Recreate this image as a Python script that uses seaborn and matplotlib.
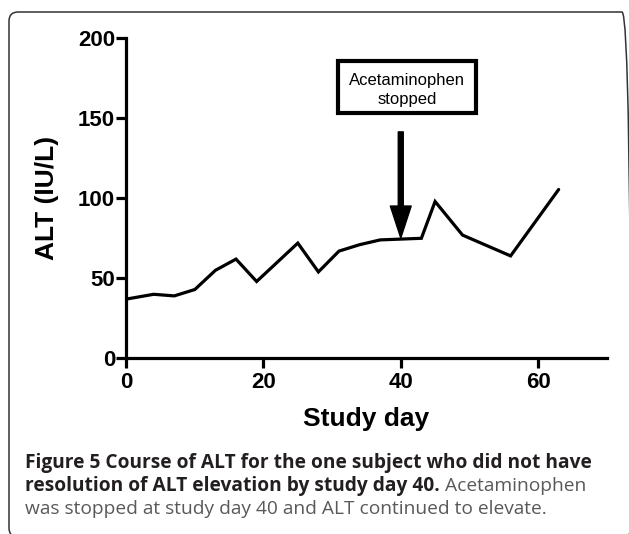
import matplotlib
matplotlib.use("Agg")
import matplotlib.pyplot as plt
import matplotlib.patches as mpatches
from matplotlib.transforms import IdentityTransform
import seaborn as sns
import pandas as pd

# ---- data ----
study_day = [0, 4, 7, 10, 13, 16, 19, 25, 28, 31, 34, 37, 40, 43, 45, 49, 56, 63]
alt_value = [37, 40, 39, 43, 55, 62, 48, 72, 54, 67, 71, 74, 74.5, 75, 98, 77, 64, 105.5]
x_ticks = [0, 20, 40, 60]
y_ticks = [0, 50, 100, 150, 200]
stop_day = 40
annotation_text = "Acetaminophen\nstopped"
x_label = "Study day"
y_label = "ALT (IU/L)"
caption_bold_1 = "Figure 5 Course of ALT for the one subject who did not have"
caption_bold_2 = "resolution of ALT elevation by study day 40."
caption_reg_2 = "Acetaminophen"
caption_reg_3 = "was stopped at study day 40 and ALT continued to elevate."

df = pd.DataFrame({"day": study_day, "alt": alt_value})

sns.set_style("ticks")
plt.rcParams["font.family"] = ["Liberation Sans", "DejaVu Sans"]
plt.rcParams.update({"text.color": "black", "axes.labelcolor": "black",
                     "xtick.color": "black", "ytick.color": "black",
                     "axes.edgecolor": "black"})

W, H = 629, 534
fig = plt.figure(figsize=(W / 100, H / 100), dpi=100)
ax = fig.add_axes([126.2 / W, (H - 358.3) / H, (606.7 - 126.2) / W, 320 / H])

sns.lineplot(data=df, x="day", y="alt", color="black", linewidth=2.3, ax=ax)
ax.lines[0].set_solid_joinstyle("miter")

ax.set_xlim(0, 70)
ax.set_ylim(0, 200)
ax.set_xticks(x_ticks)
ax.set_yticks(y_ticks)
for s in ["top", "right"]:
    ax.spines[s].set_visible(False)
for s in ["left", "bottom"]:
    ax.spines[s].set_linewidth(2.3)
    ax.spines[s].set_capstyle("projecting")
    ax.spines[s].set_color("black")
ax.tick_params(axis="both", length=7, width=2.3, labelsize=16, color="black",
               labelcolor="black")
ax.tick_params(axis="y", pad=1)
ax.tick_params(axis="x", pad=3)
for lab in ax.get_xticklabels() + ax.get_yticklabels():
    lab.set_fontweight("bold")
ax.set_xlabel(x_label, fontsize=19, fontweight="bold", labelpad=10, color="black")
ax.set_ylabel(y_label, fontsize=19, fontweight="bold", labelpad=14, color="black")

# arrow
ax.annotate("", xy=(stop_day, 75.2), xytext=(stop_day, 141.5),
            arrowprops=dict(width=3.6, headwidth=15, headlength=23,
                            facecolor="black", edgecolor="black", shrink=0),
            annotation_clip=False)

# annotation box
ax.add_patch(mpatches.Rectangle((30.9, 153.3), 20.0, 32.5, fill=False,
                                edgecolor="black", linewidth=3, clip_on=False,
                                joinstyle="miter"))
ax.text(40.9, 167.6, annotation_text, ha="center", va="center", fontsize=12,
        linespacing=1.3, multialignment="center", color="black")

# outer rounded frame
frame = mpatches.FancyBboxPatch((9, -3), 622, 525,
                                boxstyle="round,pad=0,rounding_size=9",
                                transform=IdentityTransform(), fill=False,
                                edgecolor="#333333", linewidth=1.1)
fig.add_artist(frame)

# caption
cap_font = ["Open Sans", "DejaVu Sans"]
cap_size = 13.8
x0 = 25 / W
ys = [(H - 468) / H, (H - 491) / H, (H - 514) / H]
fig.text(x0, ys[0], caption_bold_1, fontsize=cap_size, fontweight="bold",
         family=cap_font, color="#231f20", va="baseline")
t2 = fig.text(x0, ys[1], caption_bold_2, fontsize=cap_size, fontweight="bold",
              family=cap_font, color="#231f20", va="baseline")
fig.text(x0, ys[2], caption_reg_3, fontsize=cap_size, family=cap_font,
         color="#58595b", va="baseline")
fig.canvas.draw()
bb = t2.get_window_extent()
fig.text((bb.x1 + 5) / W, ys[1], caption_reg_2, fontsize=cap_size,
         family=cap_font, color="#58595b", va="baseline")

fig.savefig("out.png", dpi=100)
